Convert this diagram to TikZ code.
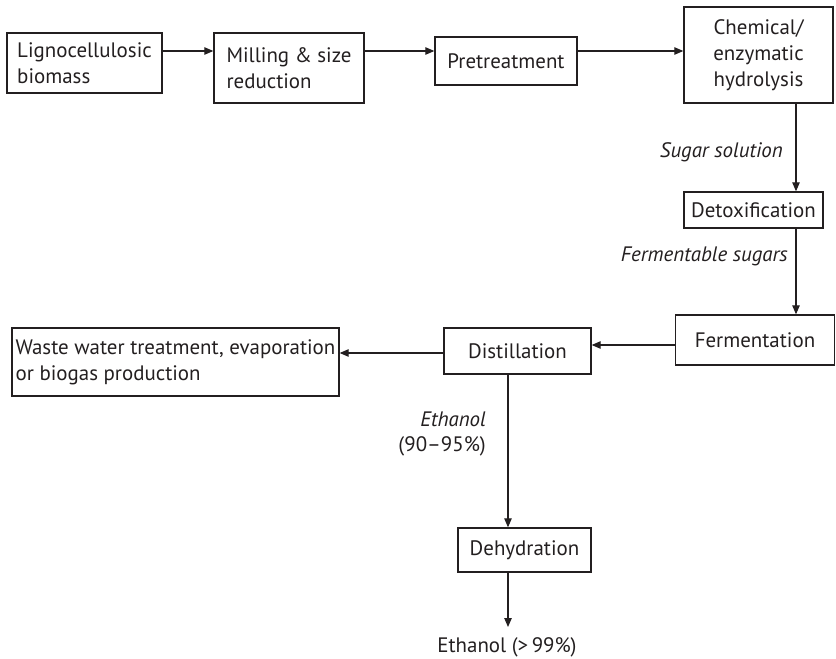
\documentclass[tikz,border=0pt]{standalone}
\usepackage{fontspec}
\setmainfont{PT Sans}
\usetikzlibrary{arrows.meta}
\definecolor{ink}{HTML}{231F20}
\begin{document}
\begin{tikzpicture}[x=1bp,y=-1bp,
  every node/.style={font=\fontsize{21}{26}\selectfont, text=ink},
  procbox/.style={draw=ink, line width=1.4bp, inner sep=0pt, align=left},
  arr/.style={draw=ink, line width=1.1bp, -{Triangle[length=9bp,width=7.5bp]}},
  lbl/.style={font=\fontsize{21}{26}\selectfont\itshape, inner sep=0pt, anchor=east, align=right}]
\useasboundingbox (0,0) rectangle (836,659);
% boxes
\node[procbox, minimum width=155bp, minimum height=60bp] (lig) at (84.5,63) {Lignocellulosic\\biomass};
\node[procbox, minimum width=150bp, minimum height=70bp] (mill) at (289,68) {Milling \& size\\reduction};
\node[procbox, minimum width=142bp, minimum height=48bp] (pre) at (506,61) {Pretreatment};
\node[procbox, minimum width=149bp, minimum height=96bp, align=center] (chem) at (758.5,55) {Chemical/\\enzymatic\\hydrolysis};
\node[procbox, minimum width=139bp, minimum height=36bp] (detox) at (753.5,210) {Detoxification};
\node[procbox, minimum width=159bp, minimum height=50bp] (ferm) at (755,340) {Fermentation};
\node[procbox, minimum width=147bp, minimum height=46bp] (dist) at (517.5,351) {Distillation};
\node[procbox, minimum width=327bp, minimum height=68bp] (waste) at (175.5,362) {Waste water treatment, evaporation\\or biogas production};
\node[procbox, minimum width=133bp, minimum height=44bp] (dehyd) at (524.5,550) {Dehydration};
\node[inner sep=0pt] (out) at (507,647) {Ethanol (>\,99\%)};
% guide coordinates
\coordinate (row) at (0,51);
\coordinate (colA) at (796,0);
\coordinate (rowB) at (0,345);
\coordinate (rowC) at (0,353);
\coordinate (colB) at (508,0);
\coordinate (endp) at (508,627);
% connectors
\draw[arr] (lig.east |- row) -- (mill.west |- row);
\draw[arr] (mill.east |- row) -- (pre.west |- row);
\draw[arr] (pre.east |- row) -- (chem.west |- row);
\draw[arr] (chem.south -| colA) -- (detox.north -| colA);
\draw[arr] (detox.south -| colA) -- (ferm.north -| colA);
\draw[arr] (ferm.west |- rowB) -- (dist.east |- rowB);
\draw[arr] (dist.west |- rowC) -- (waste.east |- rowC);
\draw[arr] (dist.south -| colB) -- (dehyd.north -| colB);
\draw[arr] (dehyd.south -| colB) -- (endp);
% labels
\node[lbl] (l1) at (783,152) {Sugar solution};
\node[lbl] (l2) at (788,256) {Fermentable sugars};
\node[lbl] (l3) at (486,434) {\textit{Ethanol}\\\textup{(90--95\%)}};
\end{tikzpicture}
\end{document}
